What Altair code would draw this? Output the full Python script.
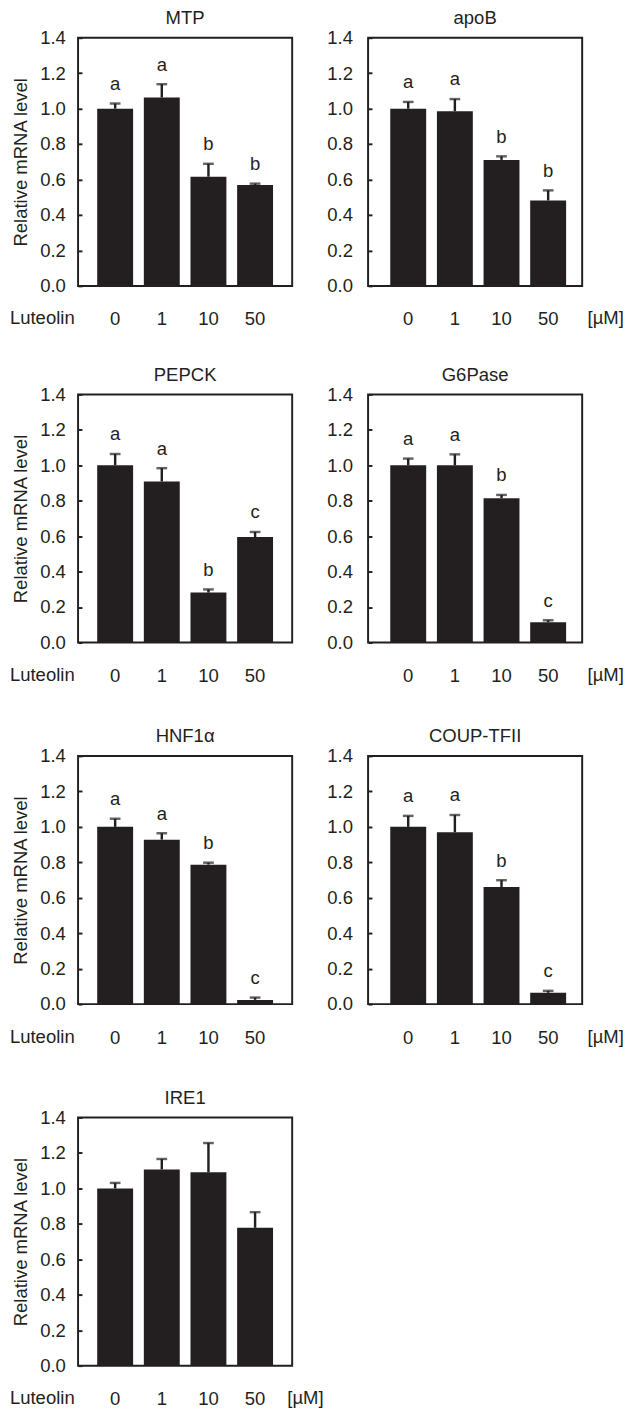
import altair as alt
import pandas as pd

doses = ["0", "1", "10", "50"]
y_ticks = [0.0, 0.2, 0.4, 0.6, 0.8, 1.0, 1.2, 1.4]

mtp_mean = [1.00, 1.063, 0.616, 0.570]
mtp_err = [0.029, 0.075, 0.073, 0.007]
mtp_letters = ["a", "a", "b", "b"]

apob_mean = [1.00, 0.986, 0.711, 0.482]
apob_err = [0.038, 0.068, 0.020, 0.057]
apob_letters = ["a", "a", "b", "b"]

pepck_mean = [1.00, 0.909, 0.282, 0.595]
pepck_err = [0.064, 0.075, 0.018, 0.029]
pepck_letters = ["a", "a", "b", "c"]

g6pase_mean = [1.00, 1.00, 0.815, 0.115]
g6pase_err = [0.038, 0.062, 0.018, 0.011]
g6pase_letters = ["a", "a", "b", "c"]

hnf1a_mean = [1.00, 0.928, 0.787, 0.024]
hnf1a_err = [0.046, 0.036, 0.011, 0.013]
hnf1a_letters = ["a", "a", "b", "c"]

coup_mean = [1.00, 0.970, 0.661, 0.064]
coup_err = [0.062, 0.097, 0.038, 0.011]
coup_letters = ["a", "a", "b", "c"]

ire1_mean = [1.00, 1.107, 1.091, 0.778]
ire1_err = [0.031, 0.059, 0.165, 0.088]
ire1_letters = ["", "", "", ""]

INK = "#231f20"
W, H = 220, 255
FS = 19


def panel(name, mean, err, letters, left, unit_title, unit_mark=False):
    df = pd.DataFrame({"dose": doses, "mean": mean, "err": err, "letter": letters})
    df["upper"] = df["mean"] + df["err"]

    common_x = dict(labelAngle=0, ticks=False, domain=False, labelPadding=25,
                    labelFontSize=FS, labelColor=INK, titleY=33, titleBaseline="middle",
                    titleFontSize=FS, titleFontWeight="normal", titleColor=INK)
    common_y = dict(values=y_ticks, format=".1f", offset=-4, tickSize=4, tickWidth=2,
                    tickColor=INK, domain=False, labelFontSize=FS, labelColor=INK,
                    grid=False, labelOverlap=False)
    if left:
        xaxis = alt.Axis(title="Luteolin", titleX=-4, titleAlign="right", **common_x)
        yaxis = alt.Axis(title="Relative mRNA level", labelPadding=13,
                         titleFontSize=FS, titleFontWeight="normal", titleColor=INK,
                         titlePadding=10, **common_y)
        xs = alt.Scale(paddingInner=0.23, paddingOuter=0.41, align=0.5)
    else:
        xaxis = alt.Axis(title=unit_title, titleX=W + 5, titleAlign="left", **common_x)
        yaxis = alt.Axis(title=None, labelPadding=16, **common_y)
        xs = alt.Scale(paddingInner=0.23, paddingOuter=0.41, align=0.58)

    ys = alt.Scale(domain=[0, 1.4], nice=False, zero=True)
    xenc = alt.X("dose:N", sort=doses, scale=xs, axis=xaxis)

    base = alt.Chart(df)
    bars = base.mark_bar(color=INK).encode(
        x=xenc, y=alt.Y("mean:Q", scale=ys, axis=yaxis))
    rule = base.mark_rule(color=INK, strokeWidth=2.5).encode(
        x=xenc, y=alt.Y("mean:Q", scale=ys, axis=yaxis), y2="upper:Q")
    cap = base.mark_tick(color=INK, size=11, thickness=2.5).encode(
        x=xenc, y=alt.Y("upper:Q", scale=ys, axis=yaxis))
    txt = base.mark_text(color=INK, fontSize=FS, dy=-14, baseline="alphabetic").encode(
        x=xenc, y=alt.Y("upper:Q", scale=ys, axis=yaxis), text="letter:N")
    layers = [bars, rule, cap, txt]
    if unit_mark:
        unit = alt.Chart(alt.Data(values=[{"t": "[µM]"}])).mark_text(
            color=INK, fontSize=FS, align="left", baseline="middle").encode(
            x=alt.value(W - 5), y=alt.value(H + 33), text="t:N")
        layers.append(unit)
    return alt.layer(*layers).properties(
        width=W, height=H,
        title=alt.TitleParams(name, fontSize=FS, fontWeight="normal", offset=1, color=INK))


HS = 33
row1 = alt.hconcat(panel("MTP", mtp_mean, mtp_err, mtp_letters, True, None),
                   panel("apoB", apob_mean, apob_err, apob_letters, False, "[µM]"), spacing=HS)
row2 = alt.hconcat(panel("PEPCK", pepck_mean, pepck_err, pepck_letters, True, None),
                   panel("G6Pase", g6pase_mean, g6pase_err, g6pase_letters, False, "[µM]"), spacing=HS)
row3 = alt.hconcat(panel("HNF1α", hnf1a_mean, hnf1a_err, hnf1a_letters, True, None),
                   panel("COUP-TFII", coup_mean, coup_err, coup_letters, False, "[µM]"), spacing=HS)
row4 = panel("IRE1", ire1_mean, ire1_err, ire1_letters, True, None, unit_mark=True)

inner = alt.vconcat(row2, row3, row4, spacing=41.5)
chart = alt.vconcat(row1, inner, spacing=36.5).properties(
    padding={"top": -19, "bottom": 0, "left": 0, "right": 0}).configure(
    font="Liberation Sans").configure_view(stroke=INK, strokeWidth=2).configure_concat(spacing=HS)

chart.save("out.html", embed_options={"renderer": "svg", "actions": False})
